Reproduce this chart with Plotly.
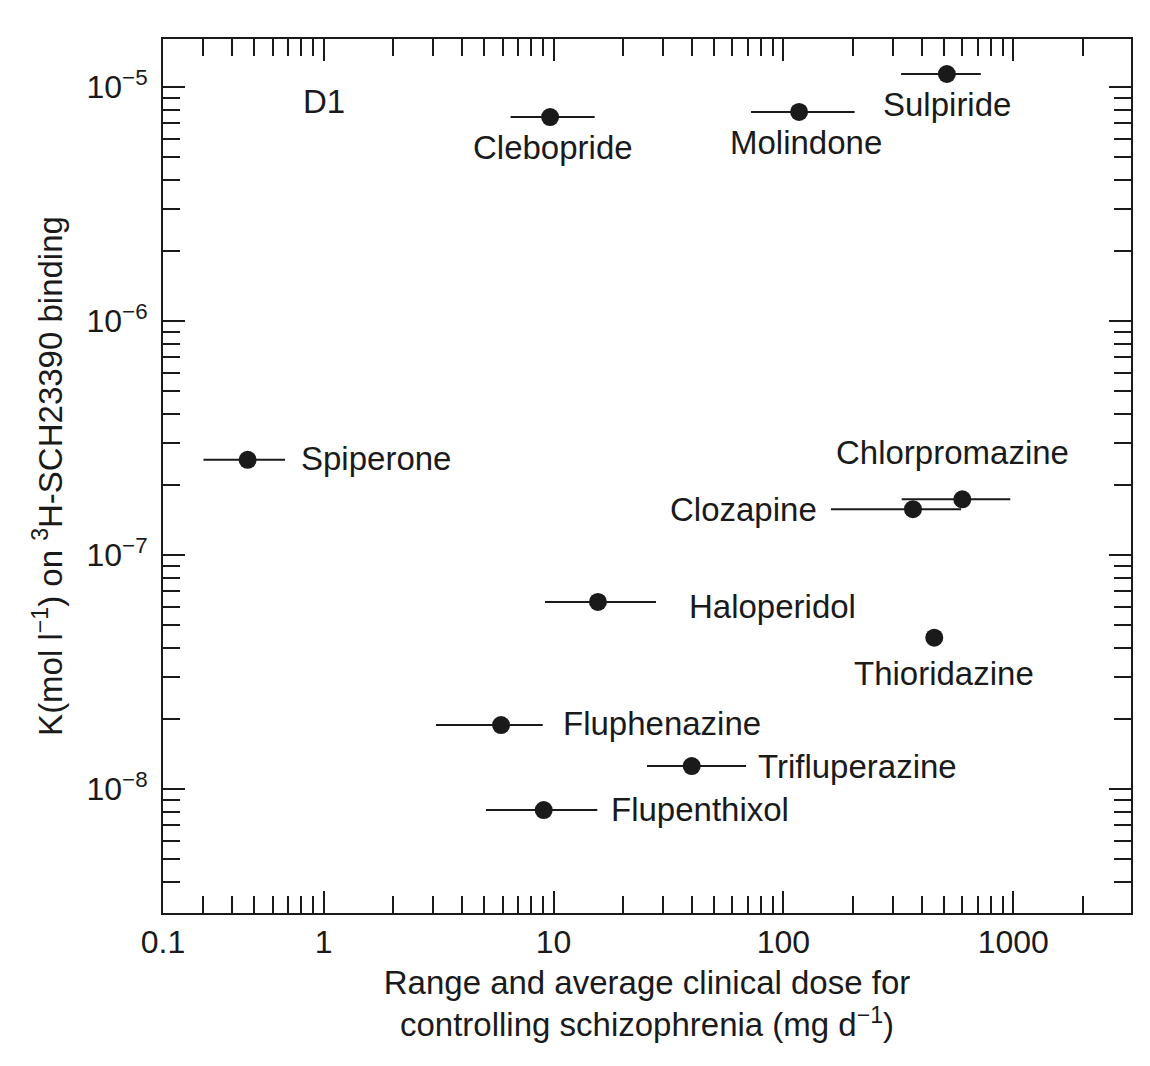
import math
import plotly.graph_objects as go

# ---- data ----
drugs = ["Sulpiride", "Molindone", "Clebopride", "Spiperone", "Chlorpromazine",
         "Clozapine", "Haloperidol", "Thioridazine", "Fluphenazine",
         "Trifluperazine", "Flupenthixol"]
dose_avg = [514, 117, 9.66, 0.467, 600, 366, 15.6, 453, 5.91, 39.9, 9.06]
dose_lo = [325, 72.3, 6.5, 0.30, 327, 161, 9.18, None, 3.08, 25.5, 5.08]
dose_hi = [722, 204, 15.1, 0.679, 970, 593, 27.9, None, 8.97, 68.8, 15.5]
k_d1 = [1.136e-5, 7.82e-6, 7.44e-6, 2.55e-7, 1.73e-7, 1.57e-7, 6.3e-8, 4.43e-8,
        1.875e-8, 1.253e-8, 8.13e-9]

x_tickvals = [0.2, 1, 10, 100, 1000]
x_ticktext = ["0.1", "1", "10", "100", "1000"]
x_minor = [0.3, 0.4, 0.5, 0.6, 0.7, 0.8, 0.9,
           2, 3, 4, 5, 6, 7, 8, 9,
           20, 30, 40, 50, 60, 70, 80, 90,
           200, 300, 400, 500, 600, 700, 800, 900,
           2000]
y_tickvals = [1e-8, 1e-7, 1e-6, 1e-5]
y_ticktext = ["10<sup>\u22128</sup>", "10<sup>\u22127</sup>",
              "10<sup>\u22126</sup>", "10<sup>\u22125</sup>"]
y_minor = [4e-9, 5e-9, 6e-9, 7e-9, 8e-9, 9e-9,
           2e-8, 3e-8, 4e-8, 5e-8, 6e-8, 7e-8, 8e-8, 9e-8,
           2e-7, 3e-7, 4e-7, 5e-7, 6e-7, 7e-7, 8e-7, 9e-7,
           2e-6, 3e-6, 4e-6, 5e-6, 6e-6, 7e-6, 8e-6, 9e-6]

# label placement: (xanchor, xshift, yshift) in pixels relative to the point
label_pos = {
    "Sulpiride": ("left", -66, -30),
    "Molindone": ("center", 7, -31),
    "Clebopride": ("center", 3, -30),
    "Spiperone": ("left", 51, 1),
    "Chlorpromazine": ("center", -10, 47),
    "Clozapine": ("right", -94, 0),
    "Haloperidol": ("left", 89, -5),
    "Thioridazine": ("center", 10, -36),
    "Fluphenazine": ("left", 60, 2),
    "Trifluperazine": ("left", 64, 0),
    "Flupenthixol": ("left", 65, 1),
}

INK = "#1a1a1a"
FONT = "Liberation Sans, Arial, Helvetica, sans-serif"
FS = 33

plus = [(h - a) if h is not None else 0 for a, h in zip(dose_avg, dose_hi)]
minus = [(a - l) if l is not None else 0 for a, l in zip(dose_avg, dose_lo)]

fig = go.Figure()
fig.add_trace(go.Scatter(
    x=dose_avg, y=k_d1, mode="markers",
    marker=dict(size=18, color=INK),
    error_x=dict(type="data", symmetric=False, array=plus, arrayminus=minus,
                 width=0, thickness=2, color=INK),
    showlegend=False, hoverinfo="skip",
))

for name, xv, yv in zip(drugs, dose_avg, k_d1):
    xa, xs, ys = label_pos[name]
    fig.add_annotation(x=math.log10(xv), y=math.log10(yv), xref="x", yref="y",
                       text=name, showarrow=False, xanchor=xa, yanchor="middle",
                       xshift=xs, yshift=ys,
                       font=dict(family=FONT, size=FS, color=INK))

fig.add_annotation(x=0.1426, y=0.928, xref="paper", yref="paper", text="D1",
                   showarrow=False, xanchor="left", yanchor="middle",
                   font=dict(family=FONT, size=FS, color=INK))

axis_common = dict(
    type="log", showline=True, linewidth=2, linecolor=INK, mirror="ticks",
    ticks="inside", ticklen=22, tickwidth=2, tickcolor=INK,
    showgrid=False, zeroline=False,
    tickfont=dict(family=FONT, size=32, color=INK),
)

fig.update_xaxes(
    **axis_common,
    range=[math.log10(0.2), 3.512],
    tickmode="array", tickvals=x_tickvals, ticktext=x_ticktext,
    minor=dict(tickmode="array", tickvals=x_minor, ticks="inside", ticklen=17,
               tickwidth=2, tickcolor=INK, showgrid=False),
    title=dict(text="Range and average clinical dose for<br>controlling schizophrenia (mg d<sup>\u22121</sup>)",
               font=dict(family=FONT, size=FS, color=INK), standoff=11),
)
fig.update_yaxes(
    **axis_common,
    range=[-8.53, -4.795],
    tickmode="array", tickvals=y_tickvals, ticktext=y_ticktext,
    ticklabelstandoff=7,
    minor=dict(tickmode="array", tickvals=y_minor, ticks="inside", ticklen=17,
               tickwidth=2, tickcolor=INK, showgrid=False),
    title=dict(text="K(mol l<sup>\u22121</sup>) on <sup>3</sup>H-SCH23390 binding",
               font=dict(family=FONT, size=FS, color=INK), standoff=14),
)

fig.update_layout(
    width=1150, height=1066,
    margin=dict(l=155, r=27, t=31, b=161),
    plot_bgcolor="white", paper_bgcolor="white",
    font=dict(family=FONT, color=INK),
)

fig.write_html("out.html")
